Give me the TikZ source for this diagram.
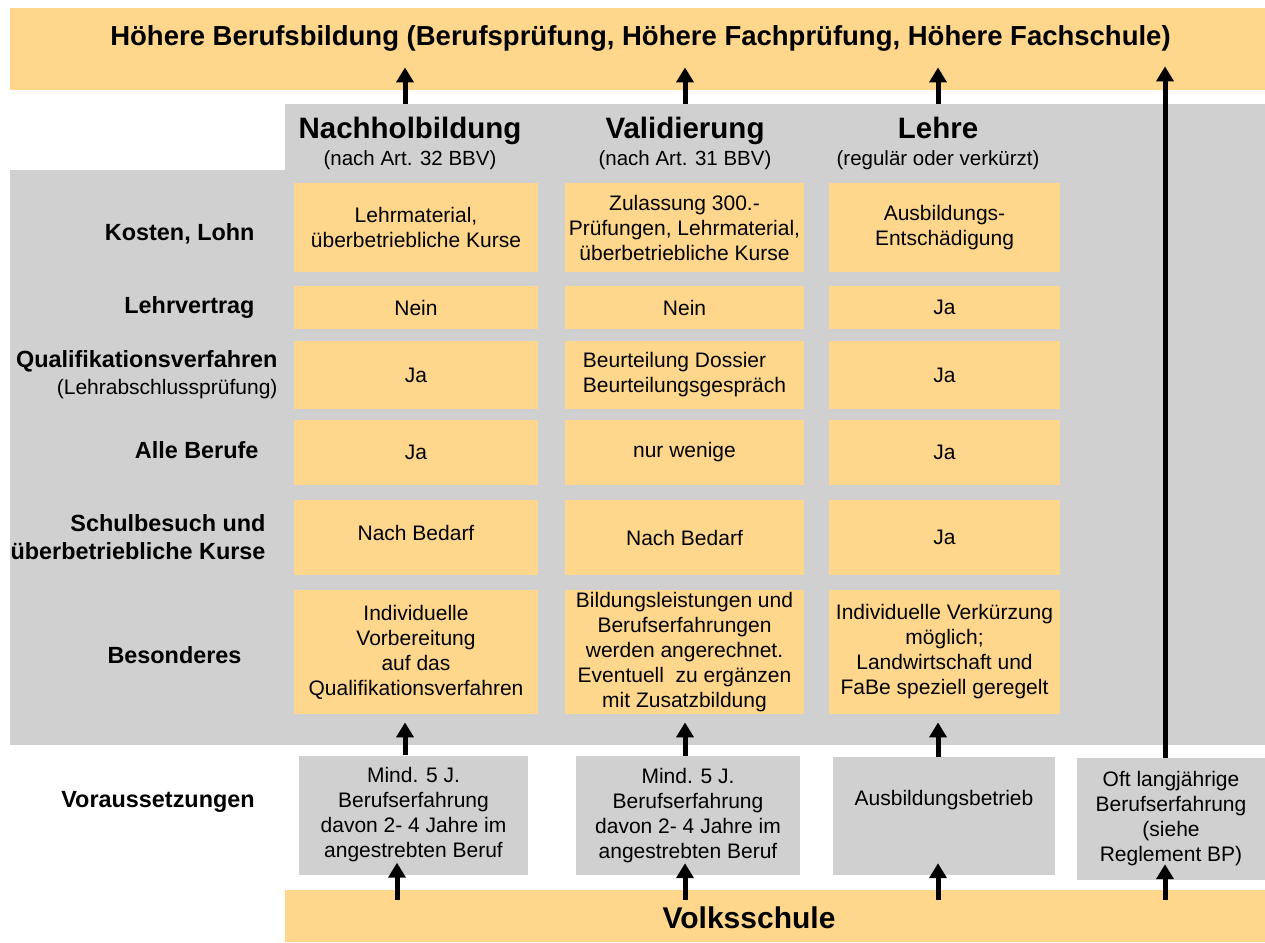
\documentclass[tikz,border=0pt]{standalone}
\usepackage{fontspec}
\setmainfont{Liberation Sans}
\usetikzlibrary{arrows.meta,calc}
\definecolor{org}{HTML}{FFD78C}
\definecolor{gry}{HTML}{D0D0D0}
\begin{document}
\begin{tikzpicture}[x=1pt,y=-1pt,
  bar/.style={fill=org, draw=none, inner sep=0pt, anchor=north west},
  area/.style={fill=gry, draw=none, inner sep=0pt, anchor=north west},
  obox/.style={fill=org, draw=none, inner sep=1pt, align=center, font=\fontsize{21}{25}\selectfont},
  gbox/.style={fill=gry, draw=none, inner sep=1pt, align=center, font=\fontsize{21}{25}\selectfont},
  lbl/.style={anchor=east, align=right, font=\bfseries\fontsize{23.4}{28}\selectfont},
  head/.style={anchor=base, font=\bfseries\fontsize{29.5}{32}\selectfont},
  sub/.style={anchor=base, font=\fontsize{20.5}{22}\selectfont},
  arr/.style={line width=5pt, -{Triangle[width=17pt,length=15pt]}},
]
\useasboundingbox (0,0) rectangle (1265,942);
\fill[white] (0,0) rectangle (1265,942);
% bars and areas
\node[bar, minimum width=1255pt, minimum height=82pt] (top) at (10,8) {};
\node[font=\bfseries\fontsize{27.5}{30}\selectfont] (title) at (640.5,38) {Höhere Berufsbildung (Berufsprüfung, Höhere Fachprüfung, Höhere Fachschule)};
\node[area, minimum width=980pt, minimum height=67pt] (gU) at (285,104) {};
\node[area, minimum width=1255pt, minimum height=575pt] (gL) at (10,170) {};
\node[bar, minimum width=980pt, minimum height=52pt] (vs) at (285,890) {};
\node[font=\bfseries\fontsize{30}{32}\selectfont] (vstext) at (749,918) {Volksschule};
% headers
\node[head] (h1) at (410,138.5) {Nachholbildung};
\node[sub] (s1) at (410,165) {(nach Art. 32 BBV)};
\node[head] (h2) at (685,138.5) {Validierung};
\node[sub] (s2) at (685,165) {(nach Art. 31 BBV)};
\node[head] (h3) at (938,138.5) {Lehre};
\node[sub] (s3) at (938,165) {(regulär oder verkürzt)};
% row labels
\node[lbl] (l1) at (258,234) {Kosten, Lohn};
\node[lbl] (l2) at (258,307) {Lehrvertrag};
\node[lbl] (l3) at (281,361) {Qualifikationsverfahren};
\node[anchor=east, font=\fontsize{21}{24}\selectfont] (l3b) at (281,389) {(Lehrabschlussprüfung)};
\node[lbl] (l4) at (262,450) {Alle Berufe};
\node[lbl] (l5) at (269,537) {Schulbesuch und\\überbetriebliche Kurse};
\node[lbl] (l6) at (245,655) {Besonderes};
\node[lbl, anchor=center] (l7) at (158,802) {Voraussetzungen};
% column 1
\node[obox, minimum width=244pt, minimum height=89pt] (c11) at (416,227.5) {Lehrmaterial,\\überbetriebliche Kurse};
\node[obox, minimum width=244pt, minimum height=43pt] (c12) at (416,307.5) {Nein};
\node[obox, minimum width=244pt, minimum height=68pt] (c13) at (416,375) {Ja};
\node[obox, minimum width=244pt, minimum height=65pt] (c14) at (416,452.5) {Ja};
\node[obox, minimum width=244pt, minimum height=75pt] (c15) at (416,537.5) {Nach Bedarf\\[-16pt]};
\node[obox, minimum width=244pt, minimum height=124pt] (c16) at (416,652) {Individuelle\\Vorbereitung\\auf das\\Qualifikationsverfahren};
% column 2
\node[obox, minimum width=239pt, minimum height=89pt] (c21) at (684.5,227.5) {Zulassung 300.-\\Prüfungen, Lehrmaterial,\\überbetriebliche Kurse};
\node[obox, minimum width=239pt, minimum height=43pt] (c22) at (684.5,307.5) {Nein};
\node[obox, minimum width=239pt, minimum height=68pt, align=left] (c23) at (684.5,375) {Beurteilung Dossier\\Beurteilungsgespräch};
\node[obox, minimum width=239pt, minimum height=65pt] (c24) at (684.5,452.5) {nur wenige};
\node[obox, minimum width=239pt, minimum height=75pt] (c25) at (684.5,537.5) {Nach Bedarf};
\node[obox, minimum width=239pt, minimum height=124pt] (c26) at (684.5,652) {Bildungsleistungen und\\Berufserfahrungen\\werden angerechnet.\\Eventuell\ \ zu ergänzen\\mit Zusatzbildung};
% column 3
\node[obox, minimum width=231pt, minimum height=89pt] (c31) at (944.5,227.5) {Ausbildungs-\\Entschädigung};
\node[obox, minimum width=231pt, minimum height=43pt] (c32) at (944.5,307.5) {Ja};
\node[obox, minimum width=231pt, minimum height=68pt] (c33) at (944.5,375) {Ja};
\node[obox, minimum width=231pt, minimum height=65pt] (c34) at (944.5,452.5) {Ja};
\node[obox, minimum width=231pt, minimum height=75pt] (c35) at (944.5,537.5) {Ja};
\node[obox, minimum width=231pt, minimum height=124pt] (c36) at (944.5,652) {Individuelle Verkürzung\\möglich;\\Landwirtschaft und\\FaBe speziell geregelt};
% prerequisites
\node[gbox, minimum width=229pt, minimum height=119pt] (b1) at (413.5,815) {Mind. 5 J.\\Berufserfahrung\\davon 2- 4 Jahre im\\angestrebten Beruf};
\node[gbox, minimum width=224pt, minimum height=119pt] (b2) at (688,815.5) {Mind. 5 J.\\Berufserfahrung\\davon 2- 4 Jahre im\\angestrebten Beruf};
\node[gbox, minimum width=222pt, minimum height=118pt] (b3) at (944,816) {};
\node[font=\fontsize{21}{25}\selectfont] (b3t) at (944,800) {Ausbildungsbetrieb};
\node[gbox, minimum width=188pt, minimum height=122pt] (b4) at (1171,819) {Oft langjährige\\Berufserfahrung\\(siehe\\Reglement BP)};
% arrow x positions
\coordinate (x1) at (405,0);
\coordinate (x1b) at (397,0);
\coordinate (x2) at (685,0);
\coordinate (x3) at (938,0);
\coordinate (x4) at (1165,0);
% arrows to top bar
\draw[arr, shorten >=-23pt] (x1 |- gU.north) -- (x1 |- top.south);
\draw[arr, shorten >=-23pt] (x2 |- gU.north) -- (x2 |- top.south);
\draw[arr, shorten >=-23pt] (x3 |- gU.north) -- (x3 |- top.south);
\draw[arr, shorten >=-24pt] (x4 |- b4.north) -- (x4 |- top.south);
% arrows from prerequisites into area
\draw[arr, shorten >=-23pt] (x1 |- b1.north) -- (x1 |- gL.south);
\draw[arr, shorten >=-23pt] (x2 |- b2.north) -- (x2 |- gL.south);
\draw[arr, shorten >=-23pt] (x3 |- b3.north) -- (x3 |- gL.south);
% arrows from Volksschule
\draw[arr, shorten <=-10pt, shorten >=-12pt] (x1b |- vs.north) -- (x1b |- b1.south);
\draw[arr, shorten <=-10pt, shorten >=-12pt] (x2 |- vs.north) -- (x2 |- b2.south);
\draw[arr, shorten <=-10pt, shorten >=-12pt] (x3 |- vs.north) -- (x3 |- b3.south);
\draw[arr, shorten <=-10pt, shorten >=-16pt] (x4 |- vs.north) -- (x4 |- b4.south);
\end{tikzpicture}
\end{document}
